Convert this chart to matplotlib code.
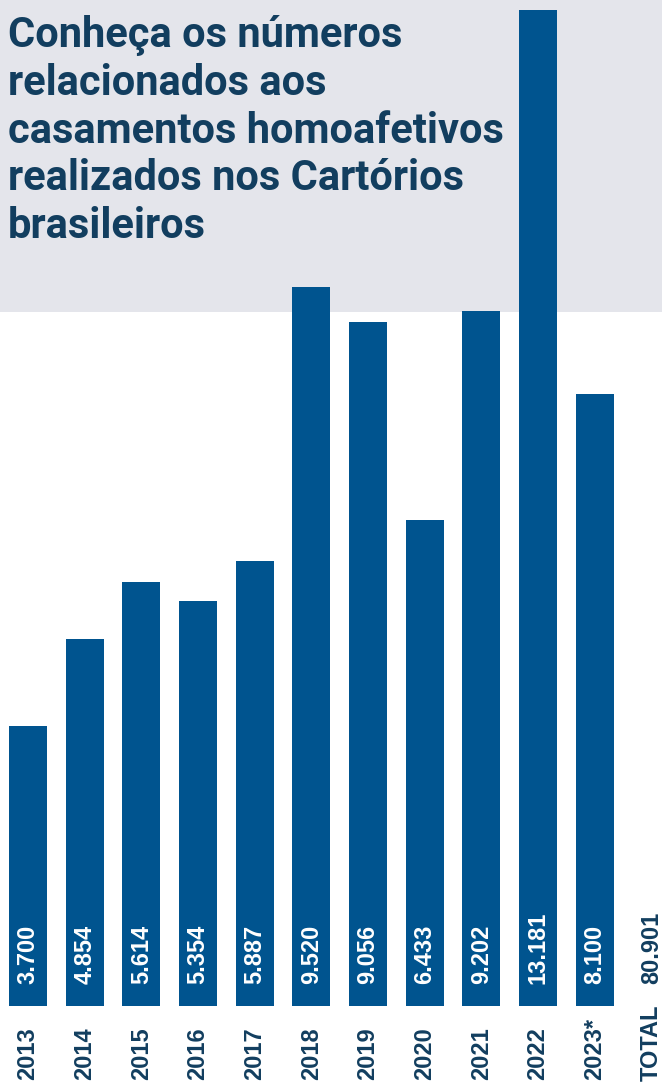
import matplotlib
matplotlib.use("Agg")
import matplotlib.pyplot as plt
from matplotlib.patches import Rectangle
import numpy as np

# Data
years = ['2013', '2014', '2015', '2016', '2017', '2018', '2019', '2020', '2021', '2022', '2023*']
values = [3700, 4854, 5614, 5354, 5887, 9520, 9056, 6433, 9202, 13181, 8100]
total_label = 'TOTAL'
title_lines = ['Conheça os números',
               'relacionados aos',
               'casamentos homoafetivos',
               'realizados nos Cartórios',
               'brasileiros']

BAR_COLOR = '#00548f'
TEXT_COLOR = '#123e5f'
BG_COLOR = '#e4e5eb'

W, H = 662, 1083
DPI = 100


def fmt(v):
    # Brazilian thousands separator
    return f"{v:,}".replace(',', '.')


fig = plt.figure(figsize=(W / DPI, H / DPI), dpi=DPI)
fig.patch.set_facecolor('white')

# gray header block behind the title
fig.patches.append(Rectangle((0, 1 - 312 / H), 1, 312 / H, transform=fig.transFigure,
                             facecolor=BG_COLOR, edgecolor='none', zorder=-1))

# axes: baseline 77 px above bottom, 56.67 px per category
ax = fig.add_axes([0, 77 / H, 1, 1006 / H])
ax.patch.set_alpha(0)
ax.axis('off')

x = np.arange(len(years))
ax.bar(x, values, width=0.67, color=BAR_COLOR, zorder=2)
ax.set_xlim(-0.494, 11.188)
ax.set_ylim(0, 13313)

px = 72 / DPI  # points per pixel
label_font = dict(family=['Liberation Sans', 'DejaVu Sans'], fontweight='bold', fontsize=17)

for xi, v, yr in zip(x, values, years):
    ax.annotate(fmt(v), xy=(xi, 0), xytext=(0, 22 * px), textcoords='offset points',
                rotation=90, ha='center', va='bottom', color='white', zorder=3,
                annotation_clip=False, **label_font)
    ax.annotate(yr, xy=(xi, 0), xytext=(0, -74 * px), textcoords='offset points',
                rotation=90, ha='center', va='bottom', color=TEXT_COLOR,
                annotation_clip=False, **label_font)

# total column
xt = len(years)
ax.annotate(fmt(sum(values)), xy=(xt, 0), xytext=(0, 22 * px), textcoords='offset points',
            rotation=90, ha='center', va='bottom', color=TEXT_COLOR,
            annotation_clip=False, **label_font)
ax.annotate(total_label, xy=(xt, 0), xytext=(0, -75 * px), textcoords='offset points',
            rotation=90, ha='center', va='bottom', color=TEXT_COLOR,
            annotation_clip=False, **label_font)

# title, one line at a time
for i, line in enumerate(title_lines):
    fig.text(8 / W, 1 - (47 + i * 47.8) / H, line, ha='left', va='baseline',
             fontsize=30, fontweight='bold', color=TEXT_COLOR,
             family=['Roboto', 'Liberation Sans', 'DejaVu Sans'])

fig.savefig('out.png', dpi=DPI)
